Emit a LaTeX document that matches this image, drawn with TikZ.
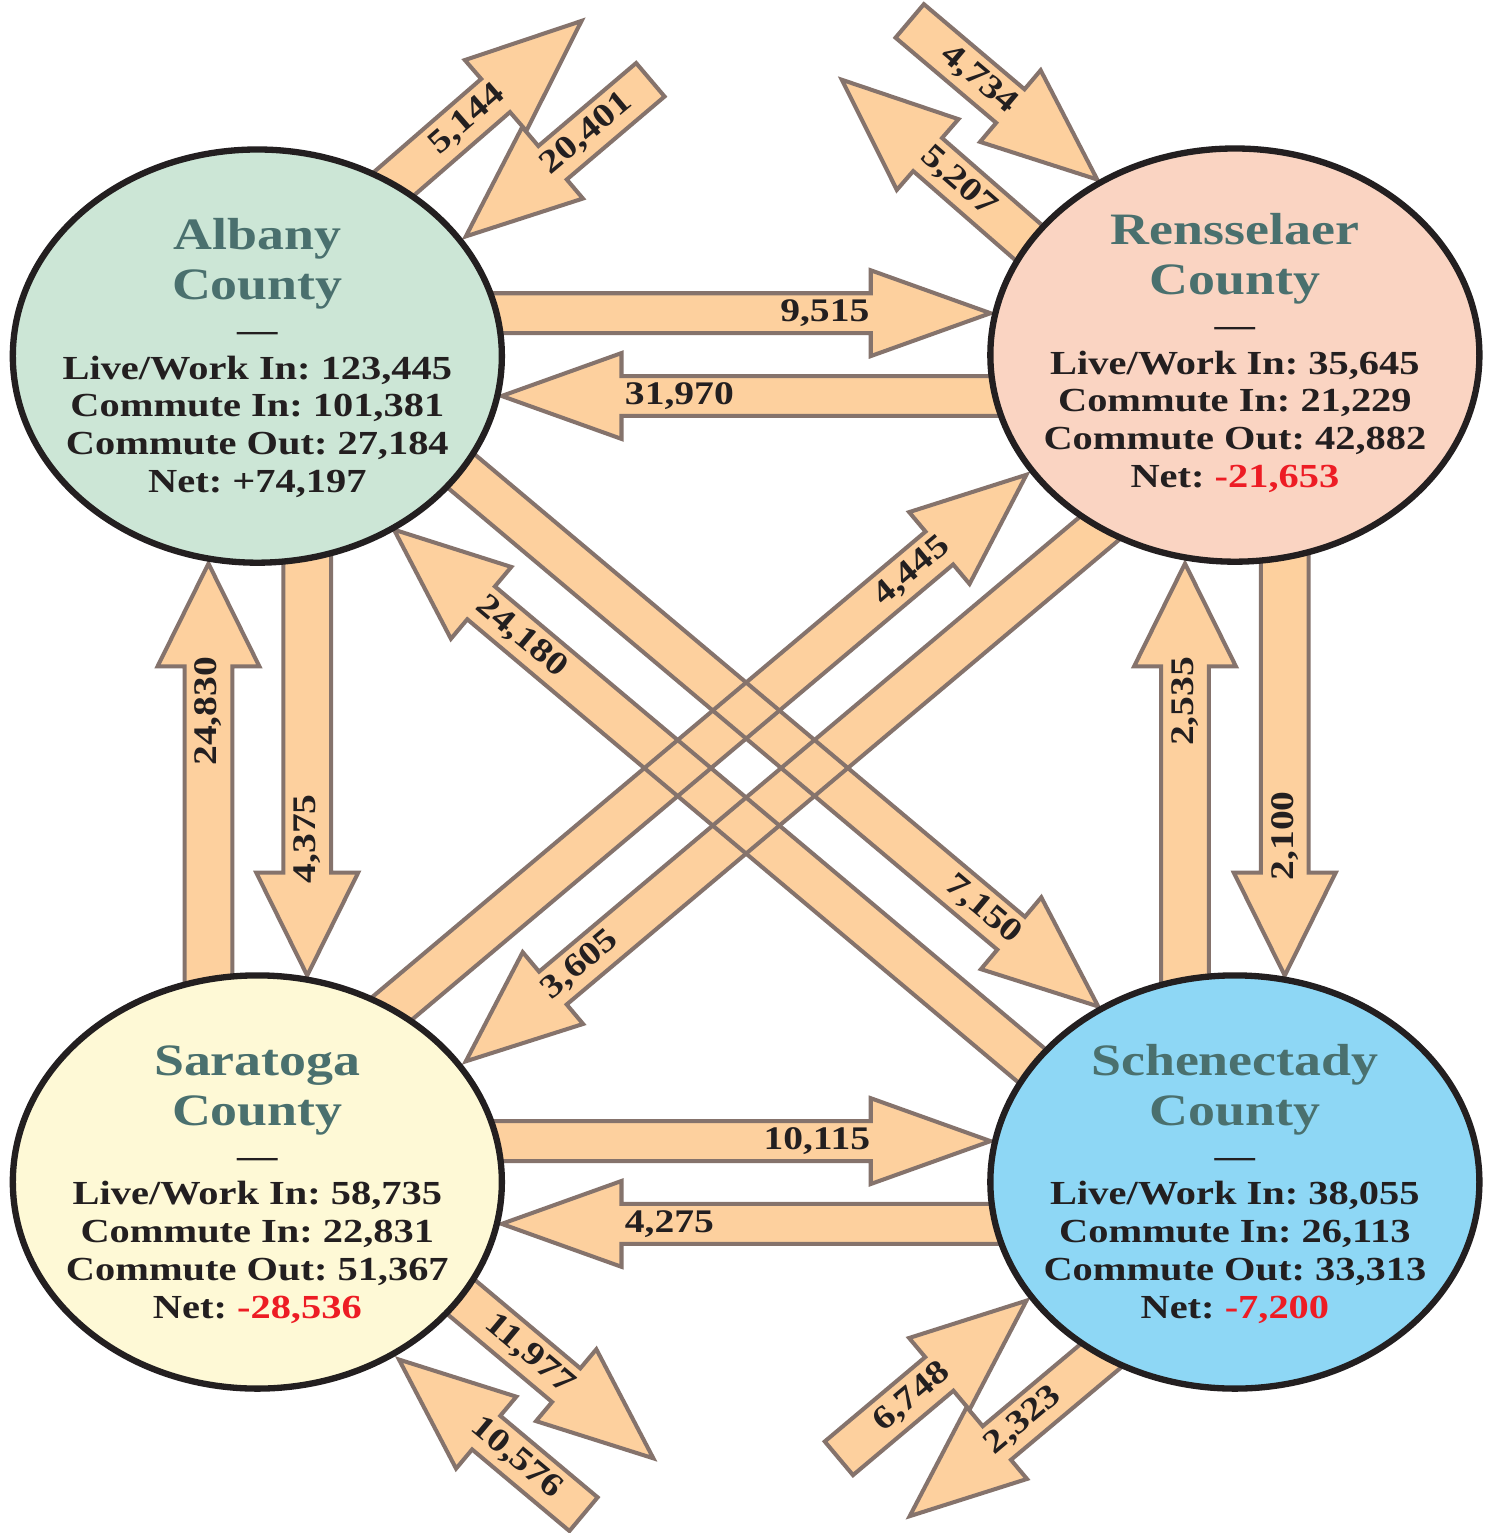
\documentclass[tikz,border=0pt]{standalone}
\usepackage{fontspec}
\setmainfont{Liberation Serif}[FakeStretch=1.2]
\usepackage{xcolor}
\usepackage{tikz}
\usetikzlibrary{shapes.geometric,calc}
\frenchspacing
\definecolor{flowpeach}{RGB}{253,208,158}
\definecolor{flowrim}{RGB}{133,115,108}
\definecolor{rimblack}{RGB}{35,31,32}
\definecolor{titleteal}{RGB}{74,112,110}
\definecolor{netred}{RGB}{237,28,36}
\definecolor{albanygreen}{RGB}{204,230,214}
\definecolor{rensselaerpink}{RGB}{250,212,194}
\definecolor{saratogacream}{RGB}{254,249,214}
\definecolor{schenectadyblue}{RGB}{142,215,245}

\begin{document}
\begin{tikzpicture}[x=0.01cm, y=-0.01cm,
    county/.style={ellipse, draw=rimblack, line width=1.8pt, minimum width=4.9cm, minimum height=4.14cm, inner sep=0pt},
    ctitle/.style={anchor=base, text=titleteal, inner sep=0pt, font=\fontsize{12.8}{14}\selectfont\bfseries},
    cbody/.style={anchor=base, text=rimblack, inner sep=0pt, font=\fontsize{9.6}{11}\selectfont\bfseries},
    flowlabel/.style={text=rimblack, inner sep=0pt, font=\fontsize{9.4}{11}\selectfont\bfseries},
    flowfill/.style={fill=flowpeach},
    flowline/.style={draw=flowrim, line width=1.15pt, line join=miter}]
    % Canvas
    \path[fill=white] (0,0) rectangle (1497,1533);

    % Arrow end points (T = tail, H = head tip)
    \foreach \nm/\px/\py in {
        albRenT/470/314, albRenH/993/314,
        renAlbT/1025/397, renAlbH/503/397,
        sarSchT/470/1144, sarSchH/993/1144,
        schSarT/1025/1227, schSarH/503/1227,
        sarAlbT/209/1000, sarAlbH/209/565,
        albSarT/308/540, albSarH/308/978,
        schRenT/1188/1000, schRenH/1188/565,
        renSchT/1288/540, renSchH/1288/978,
        albSchT/424/440, albSchH/1101/1009,
        schAlbT/1072/1100, schAlbH/395/531,
        sarRenT/368/1032, sarRenH/1029/476,
        renSarT/1128/508, renSarH/467/1064,
        albOutT/356/218, albOutH/583/21,
        albInT/652/80, albInH/467/237,
        renInT/912/21, renInH/1100/180,
        renOutT/1070/277, renOutH/844/80,
        sarOutT/425/1269, sarOutH/655/1462,
        sarInT/585/1518, sarInH/400/1363,
        schInT/841/1462, schInH/1029/1304,
        schOutT/1142/1327, schOutH/912/1520%
    } \coordinate (\nm) at (\px,\py);

    % Flows: tail/tip/half shaft/half head/head length/label/label distance/label angle
    \def\flowlist{
        albRenT/albRenH/.20cm/.43cm/1.2cm/{9,515}/1.66cm/0,
        renAlbT/renAlbH/.20cm/.43cm/1.2cm/{31,970}/1.78cm/0,
        sarSchT/sarSchH/.20cm/.43cm/1.2cm/{10,115}/1.74cm/0,
        schSarT/schSarH/.20cm/.43cm/1.2cm/{4,275}/1.68cm/0,
        sarAlbT/sarAlbH/.24cm/.51cm/1.03cm/{24,830}/1.48cm/90,
        albSarT/albSarH/.24cm/.51cm/1.03cm/{4,375}/1.37cm/90,
        schRenT/schRenH/.24cm/.51cm/1.03cm/{2,535}/1.38cm/90,
        renSchT/renSchH/.24cm/.51cm/1.03cm/{2,100}/1.40cm/90,
        albSchT/albSchH/.215cm/.47cm/1.14cm/{7,150}/1.51cm/-40,
        schAlbT/schAlbH/.215cm/.47cm/1.14cm/{24,180}/1.67cm/-40,
        sarRenT/sarRenH/.215cm/.47cm/1.14cm/{4,445}/1.50cm/40,
        renSarT/renSarH/.215cm/.47cm/1.14cm/{3,605}/1.50cm/40,
        albOutT/albOutH/.22cm/.47cm/1.14cm/{5,144}/1.51cm/41,
        albInT/albInH/.22cm/.47cm/1.14cm/{20,401}/1.59cm/40,
        renInT/renInH/.22cm/.47cm/1.14cm/{4,734}/1.55cm/-40,
        renOutT/renOutH/.22cm/.47cm/1.14cm/{5,207}/1.55cm/-41,
        sarOutT/sarOutH/.22cm/.47cm/1.14cm/{11,977}/1.62cm/-40,
        sarInT/sarInH/.22cm/.47cm/1.14cm/{10,576}/1.54cm/-40,
        schInT/schInH/.22cm/.47cm/1.14cm/{6,748}/1.50cm/40,
        schOutT/schOutH/.22cm/.47cm/1.14cm/{2,323}/1.49cm/40%
    }

    % Arrow bodies: all fills first, then all outlines
    \foreach \pass in {flowfill,flowline} {
        \foreach \tl/\tp/\w/\hw/\hl/\lab/\d/\rot in \flowlist {
            \coordinate (hb) at ($(\tp)!\hl!(\tl)$);
            \path[\pass] ($(\tl)!\w!90:(\tp)$) -- ($(hb)!\w!90:(\tp)$)
                -- ($(hb)!\hw!90:(\tp)$) -- (\tp) -- ($(hb)!\hw!-90:(\tp)$)
                -- ($(hb)!\w!-90:(\tp)$) -- ($(\tl)!\w!-90:(\tp)$) -- cycle;
        }
    }

    % Flow numbers
    \foreach \tl/\tp/\w/\hw/\hl/\lab/\d/\rot [count=\i] in \flowlist
        \node[flowlabel, rotate=\rot] (flow\i) at ($(\tp)!\d!(\tl)$) {\lab};

    % Counties
    \foreach \id/\px/\py/\fc in {alb/258/357/albanygreen, ren/1238/356/rensselaerpink,
        sar/258/1185/saratogacream, sch/1238/1185/schenectadyblue}
        \node[county, fill=\fc] (\id) at (\px,\py) {};

    \foreach \id/\dy/\nm/\lw/\ci/\co/\net/\nc in {
        alb/4/Albany/{123,445}/{101,381}/{27,184}/{+74,197}/rimblack,
        ren/0/Rensselaer/{35,645}/{21,229}/{42,882}/{-21,653}/netred,
        sar/4/Saratoga/{58,735}/{22,831}/{51,367}/{-28,536}/netred,
        sch/4/Schenectady/{38,055}/{26,113}/{33,313}/{-7,200}/netred%
    } {
        \node[ctitle] (\id-name) at ($(\id)+(0,\dy-111)$) {\nm};
        \node[ctitle] (\id-cty) at ($(\id)+(0,\dy-61)$) {County};
        \node[cbody] (\id-rule) at ($(\id)+(0,\dy-19)$) {\textemdash};
        \node[cbody] (\id-lw) at ($(\id)+(0,\dy+19)$) {Live/Work In: \lw};
        \node[cbody] (\id-in) at ($(\id)+(0,\dy+57)$) {Commute In: \ci};
        \node[cbody] (\id-out) at ($(\id)+(0,\dy+95)$) {Commute Out: \co};
        \node[cbody] (\id-net) at ($(\id)+(0,\dy+133)$) {Net: \textcolor{\nc}{\net}};
    }
\end{tikzpicture}
\end{document}
